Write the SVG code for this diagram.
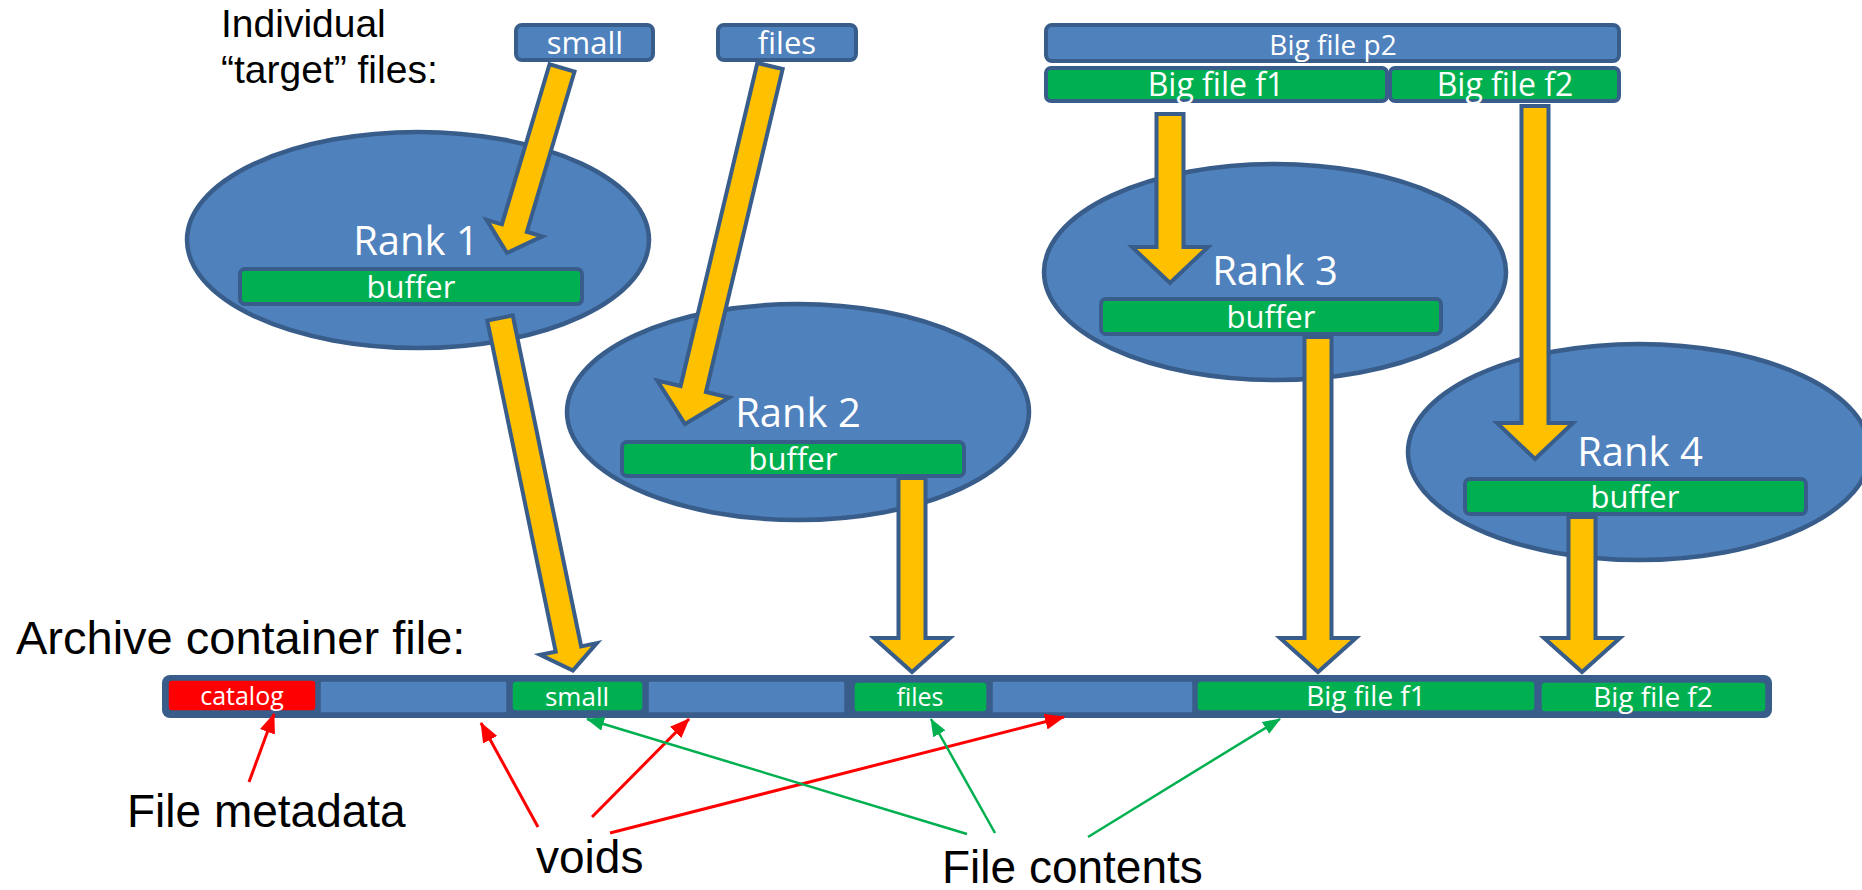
<svg xmlns="http://www.w3.org/2000/svg" width="1862" height="890" viewBox="0 0 1862 890">
<style>
.ell{fill:#4F81BD;stroke:#385D8A;stroke-width:4.5}
.box{fill:#4F81BD;stroke:#385D8A;stroke-width:4}
.grn{fill:#00B050;stroke:#385D8A;stroke-width:4}
.wt{fill:#FFFFFF;font-family:"Open Sans","Noto Sans",sans-serif;text-anchor:middle}
.bk{fill:#000000;font-family:"Liberation Sans",Arial,sans-serif;font-size:46px}
.ya{fill:#FFC000;stroke:#385D8A;stroke-width:4;stroke-linejoin:miter}
.seg{stroke:#385D8A;stroke-width:1.5}
.rl{stroke:#FF0000;stroke-width:3;fill:none;marker-end:url(#rh)}
.gl{stroke:#00B050;stroke-width:2.5;fill:none;marker-end:url(#gh)}
</style>
<defs>
<marker id="rh" markerUnits="userSpaceOnUse" markerWidth="20" markerHeight="16" viewBox="0 0 20 16" refX="19" refY="8" orient="auto"><path d="M0,0 L20,8 L0,16 z" fill="#FF0000"/></marker>
<marker id="gh" markerUnits="userSpaceOnUse" markerWidth="18" markerHeight="14" viewBox="0 0 18 14" refX="17" refY="7" orient="auto"><path d="M0,0 L18,7 L0,14 z" fill="#00B050"/></marker>
</defs>
<rect width="1862" height="890" fill="#FFFFFF"/>

<g id="labels">
<text class="bk" x="221" y="37" style="font-size:39px">Individual</text>
<text class="bk" x="221" y="83" style="font-size:39px">“target” files:</text>
<text class="bk" x="16" y="654" style="font-size:47px">Archive container file:</text>
<text class="bk" x="127" y="827">File metadata</text>
<text class="bk" x="536" y="873">voids</text>
<text class="bk" x="942" y="883">File contents</text>
</g>

<g id="src-small"><rect class="box" x="516" y="25" width="137" height="35" rx="6"/><text class="wt" x="585" y="54" font-size="31">small</text></g>
<g id="src-files"><rect class="box" x="718" y="25" width="138" height="35" rx="6"/><text class="wt" x="787" y="54" font-size="31">files</text></g>
<g id="src-bigp2"><rect class="box" x="1046" y="25" width="573" height="36" rx="6"/><text class="wt" x="1333" y="55" font-size="28">Big file p2</text></g>
<g id="src-bigf1"><rect class="grn" x="1046" y="68" width="341" height="33" rx="5"/><text class="wt" x="1216" y="96" font-size="32">Big file f1</text></g>
<g id="src-bigf2"><rect class="grn" x="1390" y="68" width="229" height="33" rx="5"/><text class="wt" x="1505" y="96" font-size="32">Big file f2</text></g>

<g id="rank1"><ellipse class="ell" cx="418" cy="240" rx="231" ry="108"/><text class="wt" x="416" y="255" font-size="40">Rank 1</text><rect class="grn" x="240" y="269" width="342" height="35" rx="5"/><text class="wt" x="411" y="298" font-size="31">buffer</text></g>
<g id="rank2"><ellipse class="ell" cx="798" cy="412" rx="231" ry="108"/><text class="wt" x="798" y="427" font-size="40">Rank 2</text><rect class="grn" x="622" y="442" width="342" height="34" rx="5"/><text class="wt" x="793" y="470" font-size="31">buffer</text></g>
<g id="rank3"><ellipse class="ell" cx="1275" cy="272" rx="231" ry="108"/><text class="wt" x="1275" y="285" font-size="40">Rank 3</text><rect class="grn" x="1101" y="299" width="340" height="35" rx="5"/><text class="wt" x="1271" y="328" font-size="31">buffer</text></g>
<g id="rank4"><ellipse class="ell" cx="1639" cy="452" rx="231" ry="108"/><text class="wt" x="1640" y="466" font-size="40">Rank 4</text><rect class="grn" x="1465" y="479" width="341" height="35" rx="5"/><text class="wt" x="1635" y="508" font-size="31">buffer</text></g>

<g id="archive">
<rect x="162" y="675" width="1610" height="43" rx="8" fill="#385D8A"/>
<rect class="seg" x="168" y="680" width="148" height="31" rx="4" fill="#FF0000"/>
<text class="wt" x="242" y="705" font-size="25">catalog</text>
<rect class="seg" x="320" y="681" width="187" height="32" rx="2" fill="#4F81BD"/>
<rect class="seg" x="512" y="681" width="131" height="30" rx="4" fill="#00B050"/>
<text class="wt" x="577" y="706" font-size="26">small</text>
<rect class="seg" x="648" y="681" width="197" height="32" rx="2" fill="#4F81BD"/>
<rect class="seg" x="854" y="682" width="133" height="30" rx="4" fill="#00B050"/>
<text class="wt" x="920" y="706" font-size="25">files</text>
<rect class="seg" x="992" y="681" width="201" height="32" rx="2" fill="#4F81BD"/>
<rect class="seg" x="1197" y="681" width="338" height="30" rx="4" fill="#00B050"/>
<text class="wt" x="1366" y="706" font-size="28">Big file f1</text>
<rect class="seg" x="1541" y="682" width="225" height="30" rx="4" fill="#00B050"/>
<text class="wt" x="1653" y="707" font-size="28">Big file f2</text>
</g>

<g id="connectors">
<polygon class="ya" transform="translate(562,68) rotate(106.56)" points="0,-13 167,-13 167,-29 193,0 167,29 167,13 0,13"/>
<polygon class="ya" transform="translate(770,66) rotate(103.36)" points="0,-13 332,-13 332,-37 368,0 332,37 332,13 0,13"/>
<polygon class="ya" transform="translate(1170,114) rotate(90)" points="0,-13.5 133,-13.5 133,-38 169,0 133,38 133,13.5 0,13.5"/>
<polygon class="ya" transform="translate(1535,106) rotate(90)" points="0,-13.5 317,-13.5 317,-38 353,0 317,38 317,13.5 0,13.5"/>
<polygon class="ya" transform="translate(500,318) rotate(78.32)" points="0,-13 338,-13 338,-29 360,0 338,29 338,13 0,13"/>
<polygon class="ya" transform="translate(912,478) rotate(90)" points="0,-13.5 160,-13.5 160,-38 194,0 160,38 160,13.5 0,13.5"/>
<polygon class="ya" transform="translate(1318,337) rotate(90)" points="0,-13.5 301,-13.5 301,-38 335,0 301,38 301,13.5 0,13.5"/>
<polygon class="ya" transform="translate(1582,517) rotate(90)" points="0,-13.5 121,-13.5 121,-38 155,0 121,38 121,13.5 0,13.5"/>
<line class="rl" x1="249" y1="782" x2="274" y2="714"/>
<line class="rl" x1="538" y1="827" x2="481" y2="723"/>
<line class="rl" x1="592" y1="817" x2="689" y2="719"/>
<line class="rl" x1="610" y1="833" x2="1064" y2="717"/>
<line class="gl" x1="967" y1="834" x2="587" y2="719"/>
<line class="gl" x1="995" y1="833" x2="931" y2="719"/>
<line class="gl" x1="1088" y1="837" x2="1280" y2="719"/>
</g>
</svg>
